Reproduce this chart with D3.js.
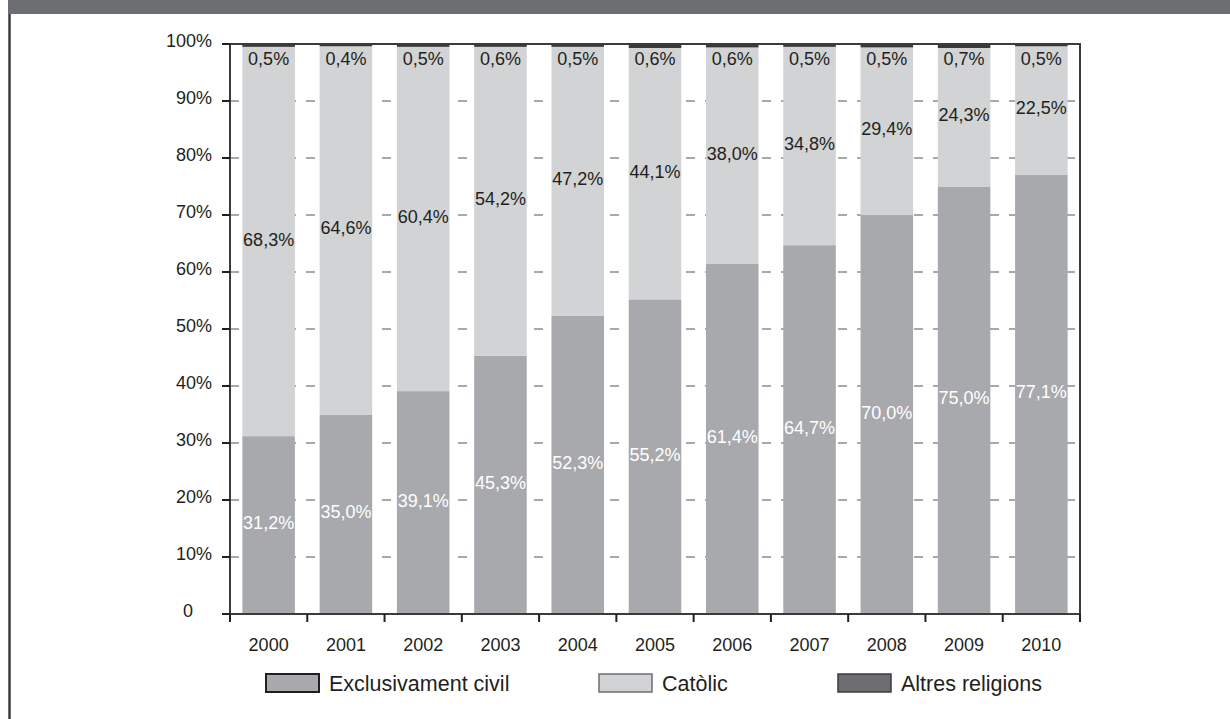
<!DOCTYPE html>
<html>
<head>
<meta charset="utf-8">
<script src="https://cdn.jsdelivr.net/npm/d3@7"></script>
<style>
  html, body { margin: 0; padding: 0; background: #ffffff; }
  svg { display: block; }
  text { font-family: "Liberation Sans", Arial, sans-serif; }
</style>
</head>
<body>
<svg id="chart" width="1230" height="719"></svg>
<script>
// ---- data ----
const years = ["2000","2001","2002","2003","2004","2005","2006","2007","2008","2009","2010"];
const civil = [31.2, 35.0, 39.1, 45.3, 52.3, 55.2, 61.4, 64.7, 70.0, 75.0, 77.1];
const catolic = [68.3, 64.6, 60.4, 54.2, 47.2, 44.1, 38.0, 34.8, 29.4, 24.3, 22.5];
const altres = [0.5, 0.4, 0.5, 0.6, 0.5, 0.6, 0.6, 0.5, 0.5, 0.7, 0.5];
const seriesNames = ["Exclusivament civil", "Catòlic", "Altres religions"];
const yTickValues = [0, 10, 20, 30, 40, 50, 60, 70, 80, 90, 100];
const yTickLabels = ["0", "10%", "20%", "30%", "40%", "50%", "60%", "70%", "80%", "90%", "100%"];

(function () {
const fmt = v => v.toFixed(1).replace(".", ",") + "%";

const svg = d3.select("#chart");
const W = 1230, H = 719;

// frame / header
svg.append("rect").attr("x", 8).attr("y", 0).attr("width", W - 8).attr("height", 14).attr("fill", "#6d6e71");
svg.append("line").attr("x1", 9.5).attr("x2", 9.5).attr("y1", 14).attr("y2", H)
  .attr("stroke", "#3d3a3c").attr("stroke-width", 2.5);

const pLeft = 230, pRight = 1080, pTop = 44, pBottom = 614;

const x = d3.scaleBand().domain(years).range([pLeft, pRight]).paddingInner(0.32).paddingOuter(0.16);
const y = d3.scaleLinear().domain([0, 100]).range([pBottom, pTop]).clamp(true);

// grid lines (dashed, behind bars)
svg.append("g").selectAll("line").data(yTickValues.filter(v => v > 0 && v < 100)).join("line")
  .attr("x1", pLeft).attr("x2", pRight)
  .attr("y1", d => y(d)).attr("y2", d => y(d))
  .attr("stroke", "#a7a9ac").attr("stroke-width", 2)
  .attr("stroke-dasharray", "9,10");

// stacked data
const rows = years.map((yr, i) => ({ year: yr, civil: civil[i], catolic: catolic[i], altres: altres[i] }));
const keys = ["civil", "catolic", "altres"];
const colors = { civil: "#a7a9ac", catolic: "#d1d3d4", altres: "#3a3839" };
const stack = d3.stack().keys(keys)(rows);

svg.append("g").selectAll("g").data(stack).join("g")
  .attr("fill", d => colors[d.key])
  .selectAll("rect").data(d => d).join("rect")
  .attr("x", d => x(d.data.year))
  .attr("width", x.bandwidth())
  .attr("y", d => y(d[1]))
  .attr("height", d => y(d[0]) - y(d[1]));

// labels
const lab = svg.append("g").attr("font-size", 18).attr("text-anchor", "middle");
lab.selectAll("text.civ").data(stack[0]).join("text").attr("class", "civ")
  .attr("x", d => x(d.data.year) + x.bandwidth() / 2)
  .attr("y", d => (y(d[0]) + y(d[1])) / 2 + 4)
  .attr("fill", "#ffffff")
  .text(d => fmt(d.data.civil));
lab.selectAll("text.cat").data(stack[1]).join("text").attr("class", "cat")
  .attr("x", d => x(d.data.year) + x.bandwidth() / 2)
  .attr("y", d => (y(d[0]) + y(d[1])) / 2 + 4)
  .attr("fill", "#231f20")
  .text(d => fmt(d.data.catolic));
lab.selectAll("text.alt").data(stack[2]).join("text").attr("class", "alt")
  .attr("x", d => x(d.data.year) + x.bandwidth() / 2)
  .attr("y", y(100) + 21)
  .attr("fill", "#231f20")
  .text(d => fmt(d.data.altres));

// plot frame
svg.append("rect").attr("x", pLeft).attr("y", pTop).attr("width", pRight - pLeft).attr("height", pBottom - pTop)
  .attr("fill", "none").attr("stroke", "#3d3a3c").attr("stroke-width", 2);

// y axis ticks + labels
const yAxis = svg.append("g");
yAxis.selectAll("line").data(yTickValues).join("line")
  .attr("x1", pLeft - 8).attr("x2", pLeft)
  .attr("y1", d => y(d)).attr("y2", d => y(d))
  .attr("stroke", "#231f20").attr("stroke-width", 2);
yAxis.selectAll("text").data(yTickValues).join("text")
  .attr("x", (d, i) => i === 0 ? 193 : 212)
  .attr("y", d => y(d) + 3)
  .attr("text-anchor", "end")
  .attr("font-size", 18)
  .attr("fill", "#231f20")
  .text((d, i) => yTickLabels[i]);

// x axis ticks (category boundaries) + labels
const step = x.step();
const bounds = d3.range(years.length + 1).map(i => pLeft + i * step);
svg.append("g").selectAll("line").data(bounds).join("line")
  .attr("x1", d => d).attr("x2", d => d)
  .attr("y1", pBottom).attr("y2", pBottom + 8)
  .attr("stroke", "#231f20").attr("stroke-width", 2);
svg.append("g").selectAll("text").data(years).join("text")
  .attr("x", d => x(d) + x.bandwidth() / 2)
  .attr("y", 651)
  .attr("text-anchor", "middle")
  .attr("font-size", 18)
  .attr("fill", "#231f20")
  .text(d => d);

// legend
const legendItems = [
  { name: seriesNames[0], key: "civil", x: 266, stroke: "#231f20", sw: 2 },
  { name: seriesNames[1], key: "catolic", x: 599, stroke: "#6d6e71", sw: 1.5 },
  { name: seriesNames[2], key: "altres", x: 838, stroke: "#3d3a3c", sw: 1.5 }
];
const legendFill = { civil: "#a7a9ac", catolic: "#d1d3d4", altres: "#6d6e71" };
const lg = svg.append("g").selectAll("g").data(legendItems).join("g");
lg.append("rect")
  .attr("x", d => d.x).attr("y", 674).attr("width", 53).attr("height", 18)
  .attr("fill", d => legendFill[d.key])
  .attr("stroke", d => d.stroke).attr("stroke-width", d => d.sw);
lg.append("text")
  .attr("x", d => d.x + 63).attr("y", 691)
  .attr("font-size", 21.5)
  .attr("fill", "#231f20")
  .text(d => d.name);
})();
</script>
</body>
</html>
